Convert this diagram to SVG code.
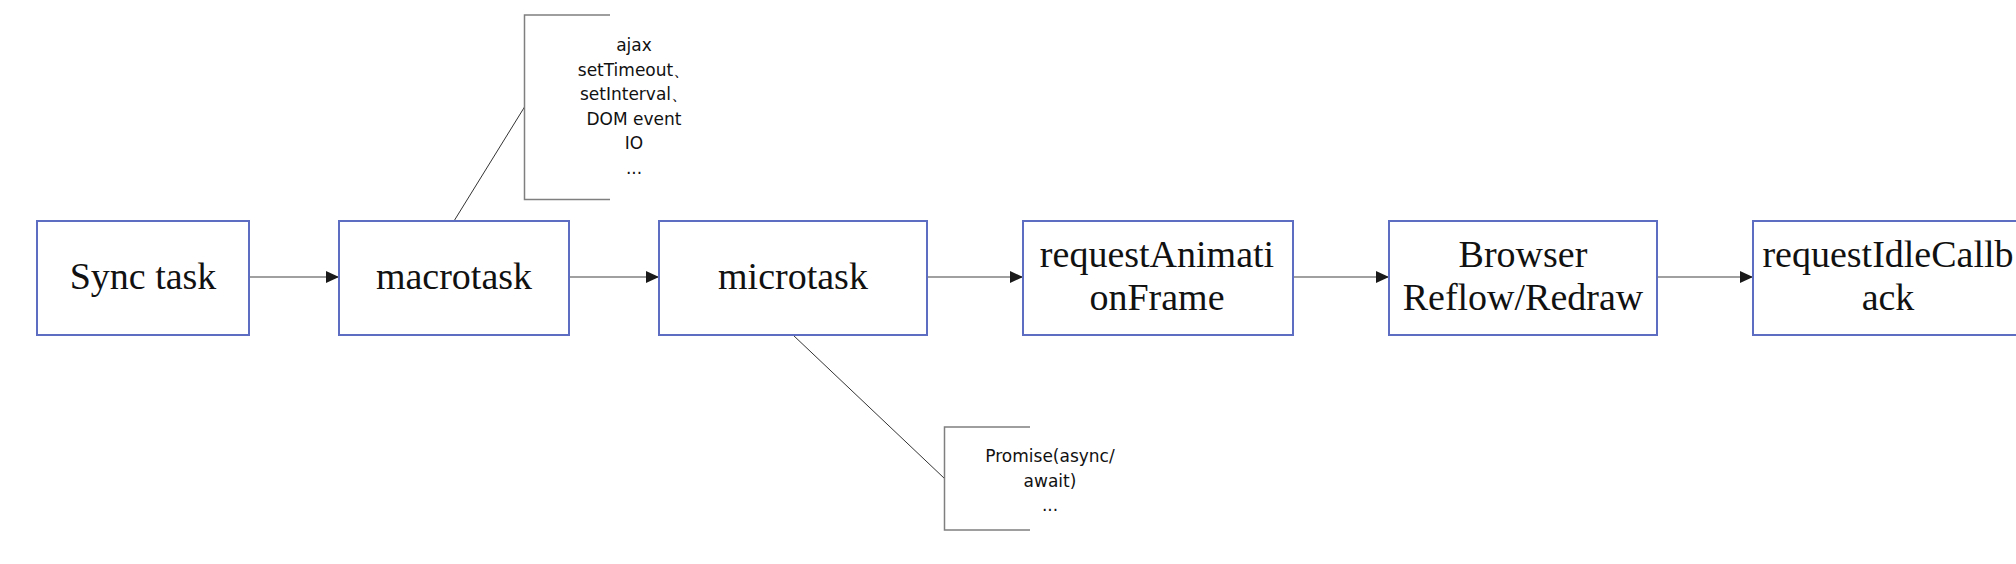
<svg xmlns="http://www.w3.org/2000/svg" width="2016" height="564" viewBox="0 0 2016 564">
<style>
.box{fill:#ffffff;stroke:#5d6dc1;stroke-width:2}
.t{font-family:"Liberation Serif","Times New Roman",serif;font-size:38px;fill:#111111;text-anchor:middle}
.c{font-family:"DejaVu Sans","Liberation Sans",sans-serif;font-size:17px;fill:#111111;text-anchor:middle}
.edge{fill:none;stroke:#808080;stroke-width:1.6}
.lead{fill:none;stroke:#333333;stroke-width:1}
.brk{fill:none;stroke:#7f7f7f;stroke-width:1.5}
</style>
<defs>
<marker id="arr" markerUnits="userSpaceOnUse" markerWidth="14" markerHeight="14" refX="13" refY="6" orient="auto">
<path d="M0,0 L13,6 L0,12 Z" fill="#1a1a1a"/>
</marker>
</defs>
<rect width="2016" height="564" fill="#ffffff"/>
<g id="connectors">
<line class="edge" x1="249" y1="277" x2="339" y2="277" marker-end="url(#arr)"/>
<line class="edge" x1="569" y1="277" x2="659" y2="277" marker-end="url(#arr)"/>
<line class="edge" x1="927" y1="277" x2="1023" y2="277" marker-end="url(#arr)"/>
<line class="edge" x1="1293" y1="277" x2="1389" y2="277" marker-end="url(#arr)"/>
<line class="edge" x1="1657" y1="277" x2="1753" y2="277" marker-end="url(#arr)"/>
<line class="lead" x1="454" y1="221" x2="524.5" y2="107"/>
<line class="lead" x1="793" y1="335" x2="944.5" y2="478.5"/>
</g>
<g id="sync">
<rect class="box" x="37" y="221" width="212" height="114"/>
<text class="t" x="143" y="289">Sync task</text>
</g>
<g id="macrotask">
<rect class="box" x="339" y="221" width="230" height="114"/>
<text class="t" x="454" y="289">macrotask</text>
</g>
<g id="microtask">
<rect class="box" x="659" y="221" width="268" height="114"/>
<text class="t" x="793" y="289">microtask</text>
</g>
<g id="raf">
<rect class="box" x="1023" y="221" width="270" height="114"/>
<text class="t" x="1157" y="267">requestAnimati</text>
<text class="t" x="1157" y="310">onFrame</text>
</g>
<g id="browser">
<rect class="box" x="1389" y="221" width="268" height="114"/>
<text class="t" x="1523" y="267">Browser</text>
<text class="t" x="1523" y="310">Reflow/Redraw</text>
</g>
<g id="ric">
<rect class="box" x="1753" y="221" width="270" height="114"/>
<text class="t" x="1888" y="267">requestIdleCallb</text>
<text class="t" x="1888" y="310">ack</text>
</g>
<g id="macro-note">
<path class="brk" d="M610,15 H524.5 V199.5 H610"/>
<text class="c" x="634" y="51">ajax</text>
<text class="c" x="634" y="75.5">setTimeout、</text>
<text class="c" x="634" y="100">setInterval、</text>
<text class="c" x="634" y="124.5">DOM event</text>
<text class="c" x="634" y="149">IO</text>
<text class="c" x="634" y="173.5">...</text>
</g>
<g id="micro-note">
<path class="brk" d="M1030,427 H944.5 V530 H1030"/>
<text class="c" x="1050" y="462">Promise(async/</text>
<text class="c" x="1050" y="486.5">await)</text>
<text class="c" x="1050" y="511">...</text>
</g>
</svg>
